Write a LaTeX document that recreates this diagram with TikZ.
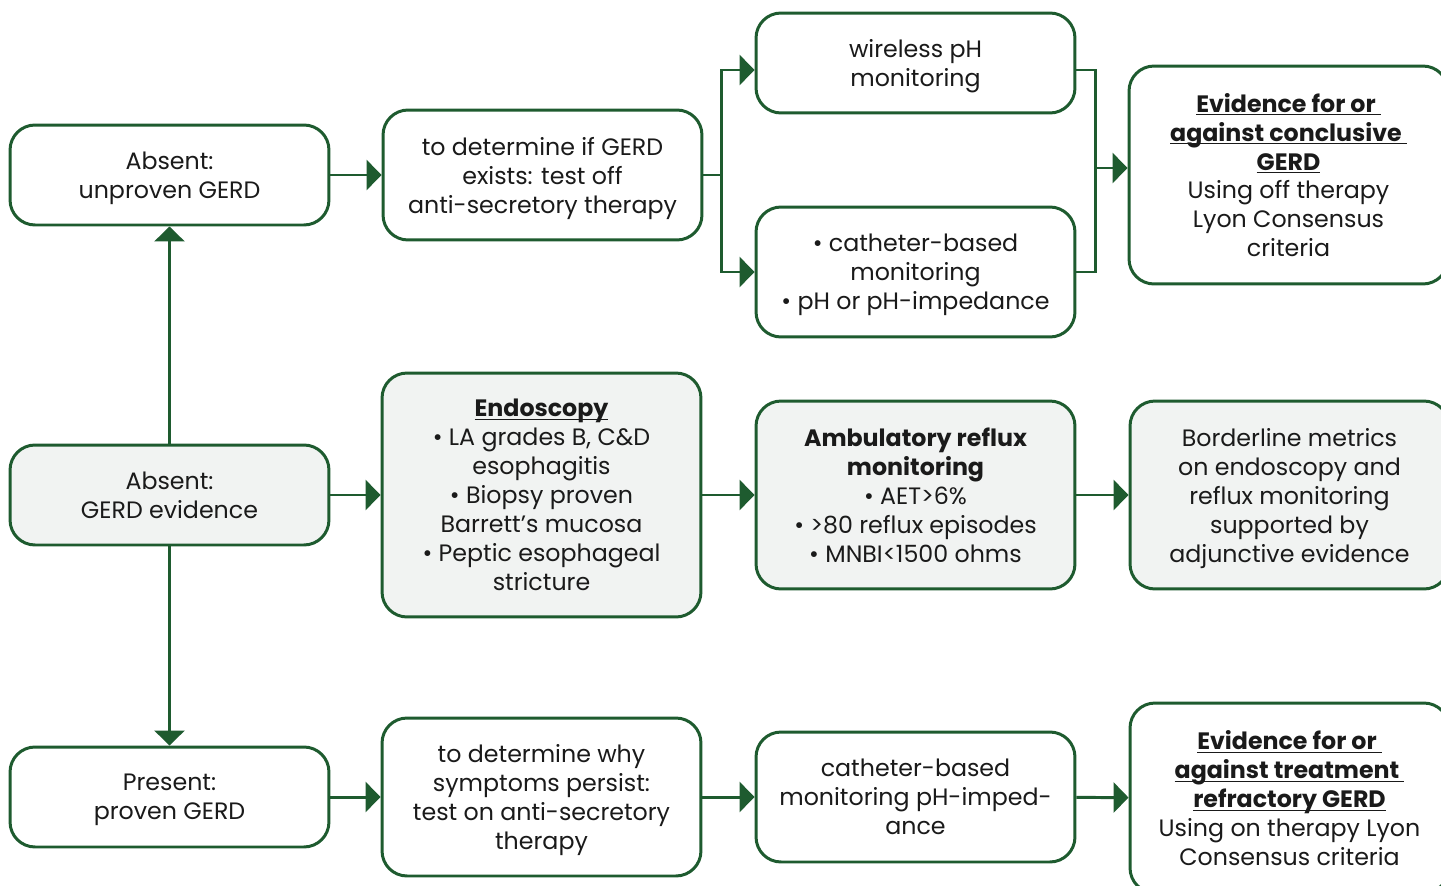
\documentclass[tikz,border=0pt]{standalone}
\usepackage{fontspec}
\setmainfont{Poppins}
\usepackage{xcolor}
\usetikzlibrary{arrows.meta,calc}
\definecolor{FontColor}{HTML}{1A1A1A}
\definecolor{GreenLine}{HTML}{1E5B2F}
\definecolor{GreyFill}{HTML}{F1F3F2}
\newcommand\ulbf[1]{\underline{\raisebox{0pt}[\height][0pt]{\textbf{#1}}}}
\newcommand\nodeunproven{Absent:\\unproven GERD}
\newcommand\nodetestoff{to determine if GERD\\exists: test off\\anti-secretory therapy}
\newcommand\nodewireless{wireless pH\\monitoring}
\newcommand\nodecatheter{• catheter-based\\monitoring\\• pH or pH-impedance}
\newcommand\nodeevidoff{\ulbf{Evidence for or\ }\\\ulbf{against conclusive\ }\\\ulbf{GERD}\\Using off therapy\\Lyon Consensus\\criteria}
\newcommand\nodeabsent{Absent:\\GERD evidence}
\newcommand\nodeendo{\ulbf{Endoscopy}\\• LA grades B, C\&D\\esophagitis\\• Biopsy proven\\Barrett’s mucosa\\• Peptic esophageal\\stricture}
\newcommand\nodeamb{\textbf{Ambulatory reflux}\\\textbf{monitoring}\\• AET>6\%\\• >80 reflux episodes\\• MNBI<1500 ohms}
\newcommand\nodeborder{Borderline metrics\\on endoscopy and\\reflux monitoring\\supported by\\adjunctive evidence}
\newcommand\nodeproven{Present:\\proven GERD}
\newcommand\nodeteston{to determine why\\symptoms persist:\\test on anti-secretory\\therapy}
\newcommand\nodecathimp{catheter-based\\monitoring pH-imped-\\ance}
\newcommand\nodeevidon{\ulbf{Evidence for or\ }\\\ulbf{against treatment\ }\\\ulbf{refractory GERD}\\Using on therapy Lyon\\Consensus criteria}
\tikzstyle{boxstyle} = [rectangle, rounded corners=0.5cm, draw=GreenLine, line width=1.7pt, text=FontColor, align=center, font=\fontsize{13.5}{16.5}\selectfont, text depth=0pt, minimum width=6.38cm, inner sep=0pt]
\tikzstyle{wn} = [boxstyle, fill=white]
\tikzstyle{gn} = [boxstyle, fill=GreyFill]
\tikzset{>={Triangle[length=0.3cm,width=0.6cm]}, every picture/.style={line width=1.7pt}}

\begin{document}
\begin{tikzpicture}[x=0.02cm, y=-0.02cm, draw=GreenLine, color=GreenLine]
\useasboundingbox (0,0) rectangle (1441,886);
\node[wn, minimum height=2cm] (unp) at (169.5, 175) {\nodeunproven};
\node[wn, minimum height=2.6cm] (off) at (542.5, 175) {\nodetestoff};
\node[wn, minimum height=2cm] (wl) at (915.5, 63) {\nodewireless};
\node[wn, minimum height=2.6cm] (cb) at (915.5, 272) {\nodecatheter};
\node[wn, minimum height=4.36cm] (evoff) at (1288.5, 175) {\nodeevidoff};
\node[gn, minimum height=2cm] (abs) at (169.5, 495) {\nodeabsent};
\node[gn, minimum height=4.88cm] (endo) at (541.5, 495) {\nodeendo};
\node[gn, minimum height=3.76cm] (amb) at (915.5, 495) {\nodeamb};
\node[gn, minimum height=3.76cm] (bord) at (1289.5, 495) {\nodeborder};
\node[wn, minimum height=2cm] (prov) at (169.5, 797) {\nodeproven};
\node[wn, minimum height=3.16cm] (on) at (541.5, 797) {\nodeteston};
\node[wn, minimum height=2.6cm] (ci) at (915.5, 797) {\nodecathimp};
\node[wn, minimum height=3.8cm] (evon) at (1289.5, 798) {\nodeevidon};
\coordinate (split) at (721, 175);
\coordinate (join) at (1095, 168);
\draw [->] (unp) -- (off);
\draw (off) -- (split);
\draw [->] (split) |- ($(wl.west)+(0,7)$);
\draw [->] (split) |- (cb.west);
\draw ($(wl.east)+(0,7)$) -| (join);
\draw (cb.east) -| (join);
\draw [->] (join) -- (evoff.west |- join);
\draw [->] (abs) -- (unp);
\draw [->] (abs) -- (prov);
\draw [->] (abs) -- (endo);
\draw [->] (endo) -- (amb);
\draw [->] (amb) -- (bord);
\draw [->] (prov) -- (on);
\draw [->] (on) -- (ci);
\draw [->] (ci) -- (evon);
\end{tikzpicture}
\end{document}
